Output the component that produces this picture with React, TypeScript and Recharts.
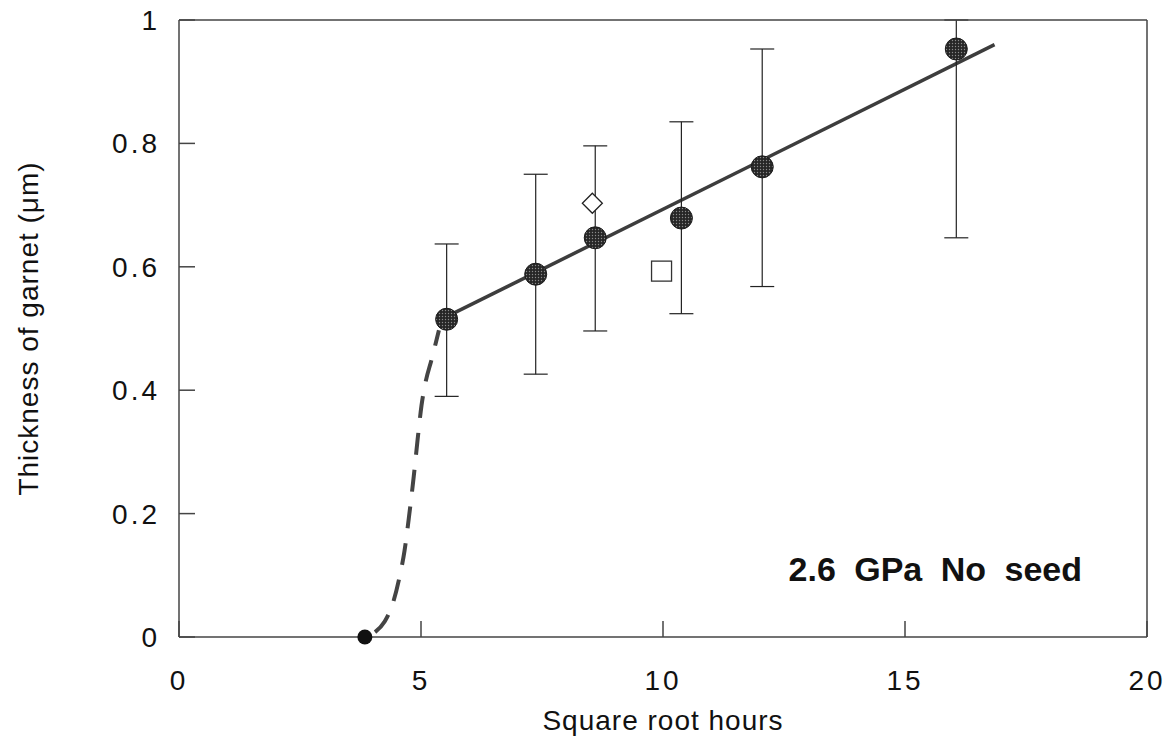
import React from "react";
import { ComposedChart, Scatter, Line, XAxis, YAxis, ErrorBar, Customized } from "recharts";

// axis ticks
const xTicks = [0, 5, 10, 15, 20];
const xTopTicks = [5, 10, 15];
const yTicks = [0, 0.2, 0.4, 0.6, 0.8, 1];
const yMinorTicks = [0.05, 0.1, 0.15, 0.25, 0.3, 0.35, 0.45, 0.5, 0.55, 0.65, 0.7, 0.75, 0.85, 0.9, 0.95];

// measured thickness with error bars [down, up]
const garnetPoints = [
  { x: 5.53, y: 0.515, err: [0.125, 0.122] },
  { x: 7.37, y: 0.588, err: [0.162, 0.162] },
  { x: 8.6, y: 0.647, err: [0.151, 0.149] },
  { x: 10.38, y: 0.679, err: [0.155, 0.156] },
  { x: 12.05, y: 0.762, err: [0.194, 0.191] },
  { x: 16.06, y: 0.953, err: [0.306, 0.047] },
];
const zeroPoint = [{ x: 3.84, y: 0 }];
const diamondPoint = [{ x: 8.54, y: 0.703 }];
const squarePoint = [{ x: 9.97, y: 0.593 }];

// linear fit and the dashed onset curve
const fitLine = [
  { x: 5.5, y: 0.518 },
  { x: 16.85, y: 0.96 },
];
const riseCurve = [
  { x: 4.05, y: 0.008 },
  { x: 4.25, y: 0.025 },
  { x: 4.42, y: 0.055 },
  { x: 4.55, y: 0.095 },
  { x: 4.66, y: 0.14 },
  { x: 4.76, y: 0.2 },
  { x: 4.85, y: 0.26 },
  { x: 4.93, y: 0.32 },
  { x: 5.01, y: 0.375 },
  { x: 5.1, y: 0.415 },
  { x: 5.22, y: 0.45 },
  { x: 5.3, y: 0.475 },
  { x: 5.37, y: 0.497 },
];

const font = '"Liberation Sans", Arial, Helvetica, sans-serif';
const ink = "#111";
const axisStroke = { stroke: "#444", strokeWidth: 1.5 };
const tickText = { fontFamily: font, fontSize: 28, letterSpacing: 3, fill: ink };

const Dot = (p: any) => (
  <circle cx={p.cx} cy={p.cy} r={11} fill="url(#stipple)" stroke="#1a1a1a" strokeWidth={1} />
);
const SmallDot = (p: any) => <circle cx={p.cx} cy={p.cy} r={7.5} fill="#111" />;
const Diamond = (p: any) => (
  <path
    d={`M${p.cx},${p.cy - 10} L${p.cx + 10},${p.cy} L${p.cx},${p.cy + 10} L${p.cx - 10},${p.cy} Z`}
    fill="#fff"
    stroke="#222"
    strokeWidth={1.3}
  />
);
const Square = (p: any) => (
  <rect x={p.cx - 10} y={p.cy - 10} width={20} height={20} fill="#fff" stroke="#333" strokeWidth={1.3} />
);

const YTitle = (props: any) => {
  const vb = props.viewBox || {};
  const cx = 28;
  const cy = vb.y + vb.height / 2;
  return (
    <text
      x={cx}
      y={cy}
      transform={`rotate(-90, ${cx}, ${cy})`}
      textAnchor="middle"
      dominantBaseline="central"
      style={{ fontFamily: font, fontSize: 28, letterSpacing: 1, fill: ink }}
    >
      Thickness of garnet (μm)
    </text>
  );
};

const Note = () => (
  <text
    x={1082}
    y={581}
    textAnchor="end"
    style={{ fontFamily: font, fontSize: 34, fontWeight: 700, wordSpacing: 9, fill: ink }}
  >
    2.6 GPa No seed
  </text>
);

export default function App() {
  return (
    <div style={{ position: "absolute", left: 0, top: 0, width: 1174, height: 746, background: "#fff" }}>
      <ComposedChart width={1174} height={746} margin={{ top: 19, right: 25, bottom: 108, left: 177 }}>
        <defs>
          <pattern id="stipple" width="3" height="3" patternUnits="userSpaceOnUse">
            <rect width="3" height="3" fill="#262626" />
            <circle cx="1.5" cy="1.5" r="0.7" fill="#8a8a8a" />
          </pattern>
        </defs>

        <XAxis
          xAxisId="x"
          dataKey="x"
          type="number"
          domain={[0, 20]}
          ticks={xTicks}
          height={1}
          tickSize={-16}
          tickMargin={49}
          axisLine={axisStroke}
          tickLine={axisStroke}
          tick={tickText}
          label={{ value: "Square root hours", position: "bottom", offset: 72, style: { fontFamily: font, fontSize: 28, letterSpacing: 1, fill: ink } }}
        />
        <XAxis
          xAxisId="top"
          orientation="top"
          type="number"
          domain={[0, 20]}
          ticks={xTopTicks}
          height={1}
          tickSize={-16}
          tick={false}
          axisLine={axisStroke}
          tickLine={axisStroke}
        />
        <YAxis
          yAxisId="y"
          type="number"
          domain={[0, 1]}
          ticks={yTicks}
          width={1}
          tickSize={-16}
          tickMargin={35}
          axisLine={axisStroke}
          tickLine={axisStroke}
          tick={tickText}
          tickFormatter={(v: number) => String(v)}
          label={{ content: YTitle }}
        />
        <YAxis
          yAxisId="yMinor"
          type="number"
          domain={[0, 1]}
          ticks={yMinorTicks}
          width={1}
          tickSize={-9}
          tick={false}
          axisLine={false}
          tickLine={axisStroke}
        />
        <YAxis
          yAxisId="right"
          orientation="right"
          type="number"
          domain={[0, 1]}
          ticks={yTicks}
          width={1}
          tickSize={-14}
          tick={false}
          axisLine={axisStroke}
          tickLine={axisStroke}
        />
        <YAxis
          yAxisId="rightMinor"
          orientation="right"
          type="number"
          domain={[0, 1]}
          ticks={yMinorTicks}
          width={1}
          tickSize={-8}
          tick={false}
          axisLine={false}
          tickLine={axisStroke}
        />

        <Line
          xAxisId="x"
          yAxisId="y"
          data={riseCurve}
          dataKey="y"
          type="monotone"
          stroke="#444"
          strokeWidth={4}
          strokeDasharray="22 15"
          dot={false}
          activeDot={false}
          isAnimationActive={false}
        />
        <Line
          xAxisId="x"
          yAxisId="y"
          data={fitLine}
          dataKey="y"
          type="linear"
          stroke="#3d3d3d"
          strokeWidth={3.5}
          dot={false}
          activeDot={false}
          isAnimationActive={false}
        />
        <Scatter xAxisId="x" yAxisId="y" data={garnetPoints} dataKey="y" shape={Dot} isAnimationActive={false}>
          <ErrorBar dataKey="err" direction="y" width={12} stroke="#222" strokeWidth={1.2} isAnimationActive={false} />
        </Scatter>
        <Scatter xAxisId="x" yAxisId="y" data={zeroPoint} dataKey="y" shape={SmallDot} isAnimationActive={false} />
        <Scatter xAxisId="x" yAxisId="y" data={diamondPoint} dataKey="y" shape={Diamond} isAnimationActive={false} />
        <Scatter xAxisId="x" yAxisId="y" data={squarePoint} dataKey="y" shape={Square} isAnimationActive={false} />

        <Customized component={Note} />
      </ComposedChart>
    </div>
  );
}
